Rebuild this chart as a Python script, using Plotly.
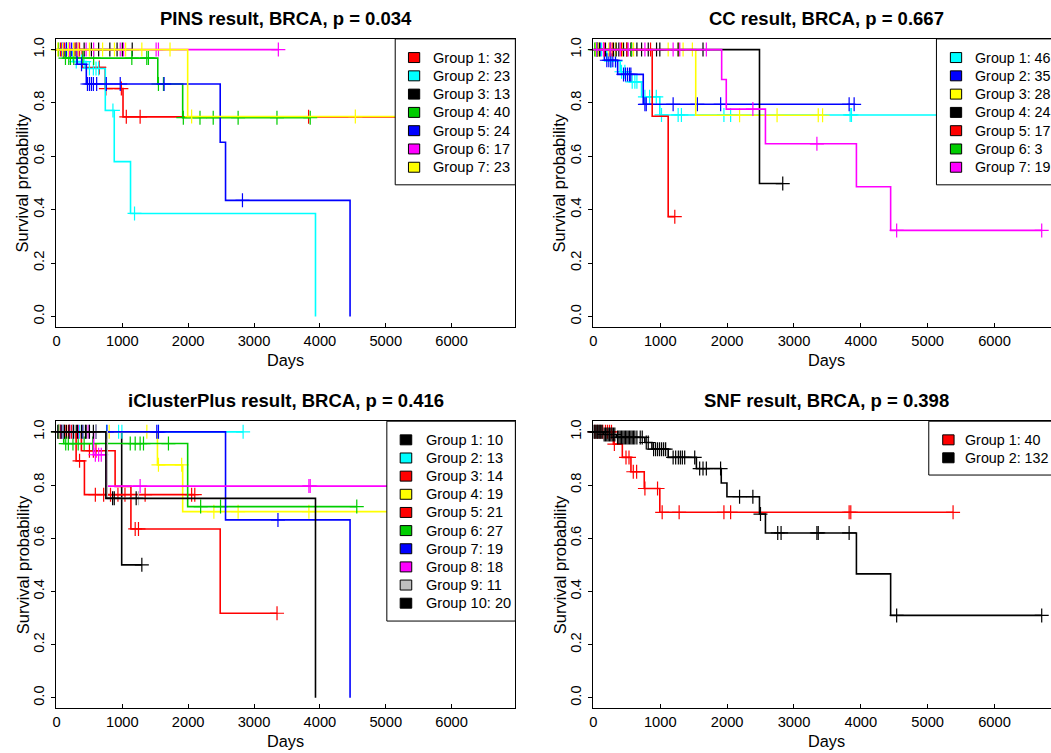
import plotly.graph_objects as go

W, H = 1051, 753
RED = "#FF0000"; CYAN = "#00FFFF"; BLACK = "#000000"; GREEN = "#00CD00"
BLUE = "#0000FF"; MAGENTA = "#FF00FF"; YELLOW = "#FFFF00"; GRAY = "#BEBEBE"
FONT = "Liberation Sans, Arial, Helvetica, sans-serif"

# ---------------- data: step times (T), survival after step (S), censor times (C)
# PINS
PINS_G1_T = [0, 390, 740, 1010, 5380]
PINS_G1_S = [1.0, 0.933, 0.854, 0.748, 0.748]
PINS_G1_C = [60, 120, 200, 280, 350, 650, 750, 985, 1060, 1270, 3828, 5380]
PINS_G2_T = [0, 250, 450, 741, 877, 1124, 3933]
PINS_G2_S = [1.0, 0.955, 0.929, 0.772, 0.580, 0.386, 0.0]
PINS_G2_C = [100, 180, 300, 380, 420, 500, 560, 600, 640, 857, 1185]
PINS_G3_T = [0, 1150]
PINS_G3_S = [1.0, 1.0]
PINS_G3_C = [150, 300, 420, 530, 640, 810, 920, 1000, 1150]
PINS_G4_T = [0, 110, 1538, 1916, 3853]
PINS_G4_S = [1.0, 0.968, 0.871, 0.745, 0.745]
PINS_G4_C = [30, 136, 186, 212, 262, 312, 400, 564, 1144, 1371, 1396, 1548, 1624,
             1926, 2179, 2380, 2758, 3348, 3853]
PINS_G5_T = [0, 312, 453, 2486, 2567, 4458]
PINS_G5_S = [1.0, 0.945, 0.871, 0.653, 0.435, 0.0]
PINS_G5_C = [80, 150, 230, 380, 470, 500, 530, 560, 610, 756, 968, 1634, 2824]
PINS_G6_T = [0, 3369]
PINS_G6_S = [1.0, 1.0]
PINS_G6_C = [100, 200, 312, 336, 450, 564, 968, 1019, 1513, 1548, 3369]
PINS_G7_T = [0, 1992, 6717]
PINS_G7_S = [1.0, 0.749, 0.749]
PINS_G7_C = [20, 90, 180, 260, 330, 500, 700, 880, 1050, 1296, 1724, 2052, 4538, 6717]

# CC
CC_G1_T = [0, 200, 400, 545, 720, 993, 5380]
CC_G1_S = [1.0, 0.957, 0.917, 0.879, 0.823, 0.755, 0.755]
CC_G1_C = [50, 120, 260, 330, 420, 470, 580, 620, 650, 770, 840, 940, 1018, 1267, 1316,
           1952, 2052, 3840, 3860, 5380]
CC_G2_T = [0, 164, 362, 745, 3900]
CC_G2_S = [1.0, 0.960, 0.907, 0.795, 0.795]
CC_G2_C = [40, 100, 200, 230, 260, 290, 330, 450, 480, 510, 540, 560, 770, 790, 1192,
           1555, 1903, 3825, 3900]
CC_G3_T = [0, 1530, 3428]
CC_G3_S = [1.0, 0.754, 0.754]
CC_G3_C = [30, 80, 150, 230, 330, 430, 500, 600, 1118, 1267, 1341, 1480, 2186, 2747, 3363, 3428]
CC_G4_T = [0, 2484, 2832]
CC_G4_S = [1.0, 0.498, 0.498]
CC_G4_C = [90, 180, 250, 300, 340, 380, 450, 500, 560, 650, 720, 820, 944, 993, 1267, 1639, 2832]
CC_G5_T = [0, 879, 1118, 1217]
CC_G5_S = [1.0, 0.75, 0.374, 0.374]
CC_G5_C = [60, 160, 280, 420, 500, 571, 854, 1217]
CC_G6_T = [0, 570]
CC_G6_S = [1.0, 1.0]
CC_G6_C = [20, 60, 570]
CC_G7_T = [0, 1918, 1987, 2573, 3934, 4446, 6706]
CC_G7_S = [1.0, 0.888, 0.777, 0.647, 0.486, 0.3225, 0.3225]
CC_G7_C = [50, 150, 250, 400, 520, 770, 1192, 1291, 1689, 2385, 3343, 4536, 6706]

# iClusterPlus
IC_G1_T = [0, 990, 1296]
IC_G1_S = [1.0, 0.5, 0.5]
IC_G1_C = [30, 150, 300, 450, 600, 1296]
IC_G2_T = [0, 2834]
IC_G2_S = [1.0, 1.0]
IC_G2_C = [80, 200, 350, 500, 760, 943, 993, 1548, 2834]
IC_G3_T = [0, 378, 890, 1130, 2486, 3349]
IC_G3_S = [1.0, 0.929, 0.795, 0.635, 0.318, 0.318]
IC_G3_C = [50, 200, 500, 560, 600, 1195, 1245, 3349]
IC_G4_T = [0, 1533, 1916, 6717]
IC_G4_S = [1.0, 0.876, 0.70, 0.70]
IC_G4_C = [40, 120, 250, 400, 600, 800, 1372, 1548, 1901, 2390, 2758, 3833, 6717]
IC_G5_T = [0, 298, 424, 2100]
IC_G5_S = [1.0, 0.891, 0.764, 0.764]
IC_G5_C = [60, 130, 180, 230, 350, 590, 716, 820, 933, 1040, 1346, 2052, 2100]
IC_G6_T = [0, 110, 1992, 4560]
IC_G6_S = [1.0, 0.956, 0.719, 0.719]
IC_G6_C = [30, 140, 180, 250, 330, 420, 550, 1120, 1195, 1270, 1321, 1700, 2189, 2491, 4560]
IC_G7_T = [0, 2567, 4458]
IC_G7_S = [1.0, 0.669, 0.0]
IC_G7_C = [100, 250, 400, 600, 766, 1523, 1548, 3363]
IC_G8_T = [0, 564, 756, 5400]
IC_G8_S = [1.0, 0.914, 0.796, 0.796]
IC_G8_C = [70, 200, 330, 480, 590, 640, 680, 1270, 3833, 3853, 5400]
IC_G9_T = [0, 770, 1245]
IC_G9_S = [1.0, 0.75, 0.75]
IC_G9_C = [40, 100, 250, 380, 500, 600, 1245]
IC_G10_T = [0, 750, 3933]
IC_G10_S = [1.0, 0.75, 0.0]
IC_G10_C = [20, 70, 120, 190, 260, 320, 380, 440, 500, 560, 852, 877, 1210]

# SNF
SNF_G1_T = [0, 298, 432, 561, 760, 993, 5380]
SNF_G1_S = [1.0, 0.954, 0.904, 0.850, 0.787, 0.6975, 0.6975]
SNF_G1_C = [20, 60, 100, 140, 180, 210, 240, 270, 313, 487, 532, 596, 646, 770, 959, 1028,
            1282, 1952, 2052, 3825, 3850, 5380]
SNF_G2_T = [0, 149, 347, 769, 875, 1118, 1540, 1912, 1997, 2484, 2573, 3934, 4446, 6706]
SNF_G2_S = [1.0, 0.99, 0.979, 0.96, 0.935, 0.904, 0.862, 0.808, 0.756, 0.691, 0.62,
            0.466, 0.31, 0.31]
SNF_G2_C = [10, 25, 40, 55, 70, 85, 100, 115, 130, 160, 180, 200, 220, 240, 260, 280, 300,
            320, 360, 380, 400, 420, 440, 460, 480, 500, 520, 540, 560, 580, 600, 620, 650,
            700, 730, 790, 820, 900, 930, 960, 990, 1020, 1050, 1080, 1192, 1230, 1270, 1300,
            1330, 1365, 1515, 1589, 1639, 1689, 1902, 2186, 2385, 2499, 2757, 2807, 3343,
            3363, 3825, 4536, 6706]

GROUP_LABELS_PINS = ["Group 1: 32", "Group 2: 23", "Group 3: 13", "Group 4: 40",
                     "Group 5: 24", "Group 6: 17", "Group 7: 23"]
GROUP_LABELS_CC = ["Group 1: 46", "Group 2: 35", "Group 3: 28", "Group 4: 24",
                   "Group 5: 17", "Group 6: 3", "Group 7: 19"]
GROUP_LABELS_IC = ["Group 1: 10", "Group 2: 13", "Group 3: 14", "Group 4: 19", "Group 5: 21",
                   "Group 6: 27", "Group 7: 19", "Group 8: 18", "Group 9: 11", "Group 10: 20"]
GROUP_LABELS_SNF = ["Group 1: 40", "Group 2: 132"]

TITLES = ["PINS result, BRCA, p = 0.034", "CC result, BRCA, p = 0.667",
          "iClusterPlus result, BRCA, p = 0.416", "SNF result, BRCA, p = 0.398"]
X_TICKS = [0, 1000, 2000, 3000, 4000, 5000, 6000]
Y_TICKS = [0.0, 0.2, 0.4, 0.6, 0.8, 1.0]
Y_TICK_TEXT = ["0.0", "0.2", "0.4", "0.6", "0.8", "1.0"]

panels = [
    dict(groups=[(PINS_G1_T, PINS_G1_S, PINS_G1_C, RED), (PINS_G2_T, PINS_G2_S, PINS_G2_C, CYAN),
                 (PINS_G3_T, PINS_G3_S, PINS_G3_C, BLACK), (PINS_G4_T, PINS_G4_S, PINS_G4_C, GREEN),
                 (PINS_G5_T, PINS_G5_S, PINS_G5_C, BLUE), (PINS_G6_T, PINS_G6_S, PINS_G6_C, MAGENTA),
                 (PINS_G7_T, PINS_G7_S, PINS_G7_C, YELLOW)],
         labels=GROUP_LABELS_PINS,
         x0=52.7, xr=513.3, xmax=6968, y1=47.7, y0=315.3, right=True, ppk=0.0661,
         leg=dict(left=392.7, right=513.3, bottom=183.3, sq=406, sqw=11.3, tx=429.5, row0=55.7,
                  dy=18.33, fs=14.6)),
    dict(groups=[(CC_G1_T, CC_G1_S, CC_G1_C, CYAN), (CC_G2_T, CC_G2_S, CC_G2_C, BLUE),
                 (CC_G3_T, CC_G3_S, CC_G3_C, YELLOW), (CC_G4_T, CC_G4_S, CC_G4_C, BLACK),
                 (CC_G5_T, CC_G5_S, CC_G5_C, RED), (CC_G6_T, CC_G6_S, CC_G6_C, GREEN),
                 (CC_G7_T, CC_G7_S, CC_G7_C, MAGENTA)],
         labels=GROUP_LABELS_CC,
         x0=591.7, xr=1051, xmax=(1051 - 591.7) / 0.0671, y1=47.7, y0=315.3, right=False,
         ppk=0.0671,
         leg=dict(left=936, right=1062, bottom=183.3, sq=950, sqw=11.3, tx=973.5, row0=55.7,
                  dy=18.33, fs=14.3)),
    dict(groups=[(IC_G1_T, IC_G1_S, IC_G1_C, BLACK), (IC_G2_T, IC_G2_S, IC_G2_C, CYAN),
                 (IC_G3_T, IC_G3_S, IC_G3_C, RED), (IC_G4_T, IC_G4_S, IC_G4_C, YELLOW),
                 (IC_G5_T, IC_G5_S, IC_G5_C, RED), (IC_G6_T, IC_G6_S, IC_G6_C, GREEN),
                 (IC_G7_T, IC_G7_S, IC_G7_C, BLUE), (IC_G8_T, IC_G8_S, IC_G8_C, MAGENTA),
                 (IC_G9_T, IC_G9_S, IC_G9_C, GRAY), (IC_G10_T, IC_G10_S, IC_G10_C, BLACK)],
         labels=GROUP_LABELS_IC,
         x0=52.7, xr=513.3, xmax=6968, y1=431.0, y0=697.7, right=True, ppk=0.0661,
         leg=dict(left=384.3, right=513.3, bottom=620.7, sq=397.7, sqw=11.6, tx=422.2, row0=439,
                  dy=18.2, fs=14.6)),
    dict(groups=[(SNF_G1_T, SNF_G1_S, SNF_G1_C, RED), (SNF_G2_T, SNF_G2_S, SNF_G2_C, BLACK)],
         labels=GROUP_LABELS_SNF,
         x0=591.7, xr=1051, xmax=(1051 - 591.7) / 0.0671, y1=431.0, y0=697.7, right=False,
         ppk=0.0671,
         leg=dict(left=928.3, right=1062, bottom=474.3, sq=942.3, sqw=11.4, tx=964.0, row0=439,
                  dy=18.0, fs=14.3)),
]


def surv_at(T, S, t):
    val = S[0]
    for ti, si in zip(T, S):
        if ti <= t:
            val = si
        else:
            break
    return val


def px(xp):
    return xp / W


def py(yp):
    return 1 - yp / H


fig = go.Figure()
shapes = []
annotations = []

for i, p in enumerate(panels):
    k = "" if i == 0 else str(i + 1)
    xa, ya = "x" + k, "y" + k
    unit = p["y0"] - p["y1"]
    top = p["y1"] - 0.04 * unit
    bot = p["y0"] + 0.04 * unit
    for (T, S, C, col) in p["groups"]:
        fig.add_trace(go.Scatter(x=T, y=S, mode="lines", line=dict(color=col, width=1.6, shape="hv"),
                                 xaxis=xa, yaxis=ya, showlegend=False, hoverinfo="skip",
                                 cliponaxis=False))
        fig.add_trace(go.Scatter(x=C, y=[surv_at(T, S, c) for c in C], mode="markers",
                                 marker=dict(symbol="cross-thin", size=10, color=col,
                                             line=dict(color=col, width=1.2)),
                                 xaxis=xa, yaxis=ya, showlegend=False, hoverinfo="skip",
                                 cliponaxis=False))
    xdom = [px(p["x0"]), min(1.0, px(p["xr"]))]
    ydom = [py(bot), py(top)]
    fig.layout["xaxis" + k] = dict(domain=xdom, range=[0, p["xmax"]], anchor=ya,
                                   showline=True, linecolor="black", linewidth=1, mirror=True,
                                   ticks="inside", ticklen=4, tickcolor="black", tickwidth=1,
                                   tickvals=X_TICKS, ticktext=[str(v) for v in X_TICKS],
                                   tickfont=dict(family=FONT, size=14.7, color="black"),
                                   showgrid=False, zeroline=False, fixedrange=True)
    fig.layout["yaxis" + k] = dict(domain=ydom, range=[-0.04, 1.04], anchor=xa,
                                   showline=True, linecolor="black", linewidth=1,
                                   mirror=p["right"],
                                   ticks="outside", ticklen=4, tickcolor="black", tickwidth=1,
                                   tickvals=Y_TICKS, ticktext=Y_TICK_TEXT, tickangle=-90,
                                   ticklabelstandoff=2,
                                   tickfont=dict(family=FONT, size=14.7, color="black"),
                                   showgrid=False, zeroline=False, fixedrange=True)
    cx = p["x0"] + 6968 * p["ppk"] / 2
    # panel title
    annotations.append(dict(text="<b>" + TITLES[i] + "</b>", x=px(cx), y=py(top - 20.5),
                            xref="paper", yref="paper", showarrow=False, xanchor="center",
                            yanchor="middle", font=dict(family=FONT, size=18.5, color="black")))
    # x label
    annotations.append(dict(text="Days", x=px(cx), y=py(bot + 32.5), xref="paper", yref="paper",
                            showarrow=False, xanchor="center", yanchor="middle",
                            font=dict(family=FONT, size=16.3, color="black")))
    # y label
    annotations.append(dict(text="Survival probability", x=px(p["x0"] - 34.2),
                            y=py((top + bot) / 2), xref="paper", yref="paper", showarrow=False,
                            textangle=-90, xanchor="center", yanchor="middle",
                            font=dict(family=FONT, size=16.5, color="black")))
    # legend
    L = p["leg"]
    shapes.append(dict(type="rect", xref="paper", yref="paper", x0=px(L["left"]), x1=px(L["right"]),
                       y0=py(L["bottom"]), y1=py(top), line=dict(color="black", width=1),
                       fillcolor="white", layer="above"))
    for j, (lab, g) in enumerate(zip(p["labels"], p["groups"])):
        yc = L["row0"] + j * L["dy"]
        shapes.append(dict(type="rect", xref="paper", yref="paper", x0=px(L["sq"]),
                           x1=px(L["sq"] + L["sqw"]), y0=py(yc + 5), y1=py(yc - 5),
                           line=dict(color="black", width=1), fillcolor=g[3], layer="above"))
        annotations.append(dict(text=lab, x=px(L["tx"]), y=py(yc), xref="paper", yref="paper",
                                showarrow=False, xanchor="left", yanchor="middle", borderpad=0,
                                font=dict(family=FONT, size=L["fs"], color="black")))

fig.update_layout(width=W, height=H, margin=dict(l=0, r=0, t=0, b=0), autosize=False,
                  paper_bgcolor="white", plot_bgcolor="white", showlegend=False,
                  shapes=shapes, annotations=annotations)
fig.write_html("out.html")
